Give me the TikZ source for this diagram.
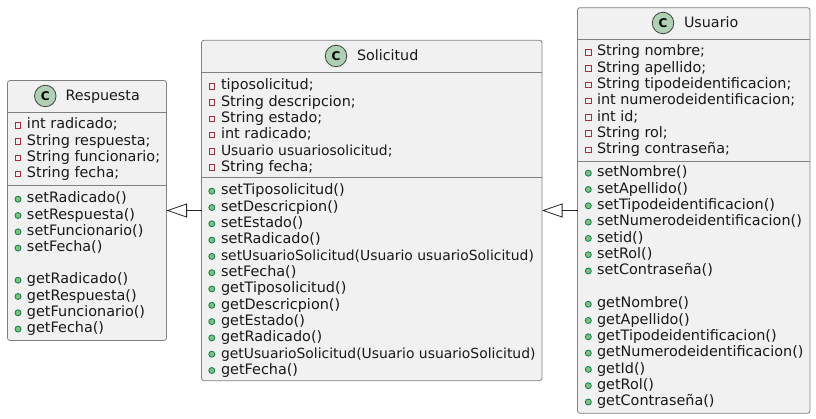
\documentclass[tikz,border=0pt]{standalone}
\usepackage{fontspec}
\setmainfont{DejaVu Sans}
\usetikzlibrary{arrows.meta}
\definecolor{boxfill}{HTML}{F1F1F1}
\definecolor{boxline}{HTML}{808080}
\definecolor{privline}{HTML}{A5303A}
\definecolor{publine}{HTML}{038048}
\definecolor{pubfill}{HTML}{84BE84}
\definecolor{headfill}{HTML}{ADD1B2}
\newcommand{\usufont}{\fontsize{13.9}{16}\selectfont}
\tikzset{
  x=1pt,y=-1pt,
  classbox/.style={draw=boxline,fill=boxfill,line width=0.8pt,rounded corners=2.5pt,inner sep=0pt,outer sep=0pt,anchor=north west},
  sepline/.style={draw=boxline,line width=0.8pt},
  member/.style={anchor=base west,inner sep=0pt,outer sep=0pt,font=\fontsize{14.4}{16}\selectfont,text=black!90},
  title/.style={anchor=base west,inner sep=0pt,outer sep=0pt,font=\fontsize{14.3}{16}\selectfont,text=black!90},
  cbadge/.style={circle,draw=black!75,fill=headfill,line width=0.8pt,minimum size=21.5pt,inner sep=0pt,font=\bfseries\fontsize{12}{14}\selectfont},
  privicon/.style={draw=privline,line width=0.8pt,fill=boxfill,minimum size=5.6pt,inner sep=0pt},
  pubicon/.style={circle,draw=publine,fill=pubfill,line width=0.8pt,minimum size=6pt,inner sep=0pt},
  inherit/.style={draw=black!85,line width=0.8pt,-{Triangle[open,length=20.5pt,width=14pt,line width=0.8pt]}},
}
\newcounter{mbr}
% #1 icon x, #2 text x, #3 first baseline, #4 icon style, #5 list
\newcommand{\members}[5]{%
  \foreach \txt [count=\i from 0] in {#5} {%
    \stepcounter{mbr}%
    \pgfmathsetmacro{\by}{#3+16.3*\i}%
    \node[member] (m\arabic{mbr}) at (#2,\by) {\txt};
    \node[#4] (ic\arabic{mbr}) at (#1,\by-3.8) {};
  }%
}
\begin{document}
\begin{tikzpicture}
\useasboundingbox (0,0) rectangle (816,419);
\node[classbox,minimum width=159pt,minimum height=260pt] (res) at (7.5,80.5) {};
\node[classbox,minimum width=340.5pt,minimum height=340.4pt] (sol) at (201.5,40.3) {};
\node[classbox,minimum width=232.5pt,minimum height=405.6pt] (usu) at (577.5,7.7) {};
\coordinate (r1) at (7.5,112.2); \coordinate (r1e) at (166.5,112.2);
\coordinate (r2) at (7.5,185.6); \coordinate (r2e) at (166.5,185.6);
\coordinate (s1) at (201.5,72.2); \coordinate (s1e) at (542,72.2);
\coordinate (s2) at (201.5,177.2); \coordinate (s2e) at (542,177.2);
\coordinate (u1) at (577.5,39.3); \coordinate (u1e) at (810,39.3);
\coordinate (u2) at (577.5,161.3); \coordinate (u2e) at (810,161.3);
\draw[sepline] (r1)--(r1e) (r2)--(r2e) (s1)--(s1e) (s2)--(s2e) (u1)--(u1e) (u2)--(u2e);
\node[cbadge] (resc) at (45.3,96) {C};
\node[title] (rest) at (65.5,101) {Respuesta};
\node[cbadge] (solc) at (336,56) {C};
\node[title] (solt) at (357,61) {Solicitud};
\node[cbadge] (usuc) at (663,23) {C};
\node[title] (usut) at (684,28) {Usuario};
\members{18}{27}{129}{privicon}{{int radicado;},{String respuesta;},{String funcionario;},{String fecha;}}
\members{18}{27}{203}{pubicon}{{setRadicado()},{setRespuesta()},{setFuncionario()},{setFecha()}}
\members{18}{27}{284}{pubicon}{{getRadicado()},{getRespuesta()},{getFuncionario()},{getFecha()}}
\members{211.8}{221}{90}{privicon}{{tiposolicitud;},{String descripcion;},{String estado;},{int radicado;},{\usufont Usuario usuariosolicitud;},{String fecha;}}
\members{211.8}{221}{195}{pubicon}{{setTiposolicitud()},{setDescricpion()},{setEstado()},{setRadicado()},{\usufont setUsuarioSolicitud(Usuario usuarioSolicitud)},{setFecha()},{getTiposolicitud()},{getDescricpion()},{getEstado()},{getRadicado()},{\usufont getUsuarioSolicitud(Usuario usuarioSolicitud)},{getFecha()}}
\members{588.3}{597}{56}{privicon}{{String nombre;},{String apellido;},{String tipodeidentificacion;},{int numerodeidentificacion;},{int id;},{String rol;},{String contraseña;}}
\members{588.3}{597}{177}{pubicon}{{setNombre()},{setApellido()},{setTipodeidentificacion()},{setNumerodeidentificacion()},{setid()},{setRol()},{setContraseña()}}
\members{588.3}{597}{308}{pubicon}{{getNombre()},{getApellido()},{getTipodeidentificacion()},{getNumerodeidentificacion()},{getId()},{getRol()},{getContraseña()}}
\draw[inherit] (sol.west) -- (res.east);
\draw[inherit] (usu.west) -- (sol.east);
\end{tikzpicture}
\end{document}
